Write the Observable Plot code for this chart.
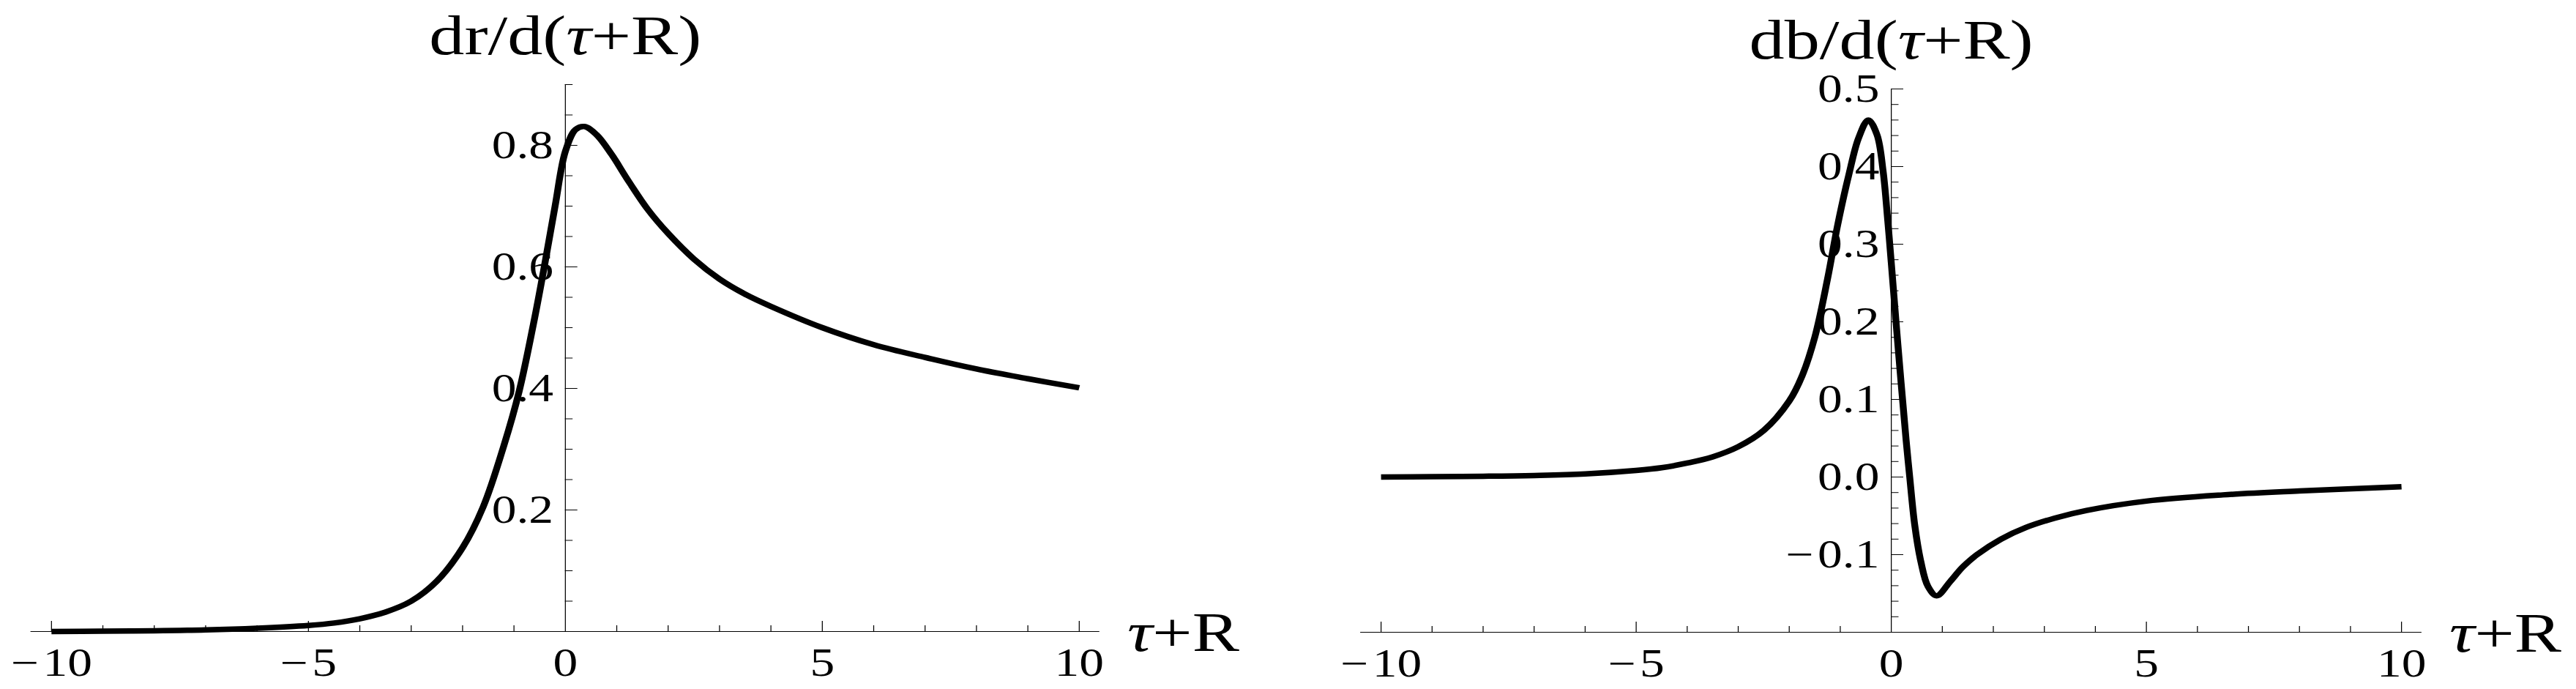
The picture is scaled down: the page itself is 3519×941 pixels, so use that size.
<!DOCTYPE html>
<html>
<head>
<meta charset="utf-8">
<script src="https://cdn.jsdelivr.net/npm/d3@7"></script>
<script src="https://cdn.jsdelivr.net/npm/@observablehq/plot@0.6"></script>
<style>
html, body { margin: 0; padding: 0; background: #fff; }
#wrap { position: absolute; left: 0; top: 0; width: 2816px; height: 941px; transform: scaleX(1.25); transform-origin: 0 0; }
#left, #right { position: absolute; top: 0; width: 1408px; height: 941px; }
#left { left: 0; }
#right { left: 1408px; }
svg text { font-family: "Liberation Serif", "Times New Roman", serif; }
</style>
</head>
<body>
<div id="wrap"><div id="left"></div><div id="right"></div></div>
<script>
// ---- data: dr/d(tau+R) ----
const drX = [-10, -9, -8, -7, -6, -5, -4.5, -4, -3.5, -3, -2.5, -2, -1.6, -1.2, -0.9, -0.6, -0.4, -0.2, 0, 0.2, 0.37, 0.6, 0.9, 1.2, 1.6, 2, 2.5, 3, 3.5, 4, 5, 6, 7, 8, 9, 10];
const drY = [0, 0.0006, 0.0013, 0.0027, 0.0055, 0.010, 0.014, 0.021, 0.032, 0.05, 0.083, 0.138, 0.205, 0.305, 0.395, 0.515, 0.605, 0.70, 0.79, 0.826, 0.831, 0.818, 0.785, 0.745, 0.695, 0.655, 0.613, 0.58, 0.555, 0.535, 0.5, 0.472, 0.451, 0.432, 0.416, 0.401];
// ---- data: db/d(tau+R) ----
const dbX = [-10, -9, -8, -7, -6, -5, -4.5, -4, -3.5, -3, -2.5, -2, -1.75, -1.5, -1.25, -1.05, -0.83, -0.64, -0.45, -0.28, -0.16, -0.07, 0, 0.13, 0.29, 0.36, 0.46, 0.58, 0.72, 0.89, 1.15, 1.4, 1.68, 2.15, 2.64, 3.2, 3.83, 5, 6.5, 8, 10];
const dbY = [0, 0.0005, 0.001, 0.002, 0.004, 0.0085, 0.012, 0.018, 0.026, 0.039, 0.06, 0.098, 0.13, 0.18, 0.255, 0.325, 0.39, 0.437, 0.46, 0.441, 0.394, 0.331, 0.276, 0.17, 0.048, 0.001, -0.062, -0.109, -0.141, -0.153, -0.135, -0.116, -0.1, -0.08, -0.065, -0.053, -0.043, -0.031, -0.023, -0.018, -0.0125];

// ---- axes / ticks ----
const xDomain = [-10, 10];
const xAxisExtent = [-10.4, 10.4];
const xMajorTicks = [-10, -5, 5, 10];
const xMinorTicks = [-9, -8, -7, -6, -4, -3, -2, -1, 1, 2, 3, 4, 6, 7, 8, 9];
const xTickLabels = [-10, -5, 0, 5, 10];

const drDomain = [0, 0.9];
const drMajorTicks = [0.2, 0.4, 0.6, 0.8];
const drMinorTicks = [0.05, 0.1, 0.15, 0.25, 0.3, 0.35, 0.45, 0.5, 0.55, 0.65, 0.7, 0.75, 0.85, 0.9];

const dbDomain = [-0.2, 0.5];
const dbMajorTicks = [-0.1, 0, 0.1, 0.2, 0.3, 0.4, 0.5];
const dbMinorTicks = [-0.18, -0.16, -0.14, -0.12, -0.08, -0.06, -0.04, -0.02, 0.02, 0.04, 0.06, 0.08, 0.12, 0.14, 0.16, 0.18, 0.22, 0.24, 0.26, 0.28, 0.32, 0.34, 0.36, 0.38, 0.42, 0.44, 0.46, 0.48];

const titles = ["dr/d(τ+R)", "db/d(τ+R)"];
const xLabel = "τ+R";

const FONT = "Liberation Serif";
const MINUS = "\u2212\u200A";
function fmtX(v) { return v < 0 ? MINUS + Math.abs(v) : String(v); }
function fmtY(v) { const s = d3.format(".1f")(Math.abs(v)); return v < -1e-9 ? MINUS + s : s; }

function panel(xs, ys, yDomain, yRange, xRange, majY, minY, title) {
  const data = xs.map((x, i) => ({x, y: ys[i]}));
  const y0 = yDomain[0], yTop = yDomain[1];
  return Plot.plot({
    width: 1408, height: 941, margin: 0,
    style: {background: "transparent", overflow: "visible", fontFamily: FONT},
    x: {domain: xDomain, range: xRange, axis: null},
    y: {domain: yDomain, range: yRange, axis: null},
    marks: [
      Plot.ruleY([y0], {x1: xAxisExtent[0], x2: xAxisExtent[1], stroke: "#000", strokeWidth: 1.1}),
      Plot.ruleX([0], {y1: y0, y2: yTop, stroke: "#000", strokeWidth: 1}),
      Plot.ruleX(xMajorTicks, {x: d => d, y1: y0, y2: y0, insetBottom: 14, stroke: "#000", strokeWidth: 1}),
      Plot.ruleX(xMinorTicks, {x: d => d, y1: y0, y2: y0, insetBottom: 8, stroke: "#000", strokeWidth: 1}),
      Plot.ruleY(majY, {y: d => d, x1: 0, x2: 0, insetRight: -13.6, stroke: "#000", strokeWidth: 1}),
      Plot.ruleY(minY, {y: d => d, x1: 0, x2: 0, insetRight: -8.4, stroke: "#000", strokeWidth: 1}),
      Plot.text(xTickLabels, {x: d => d, y: y0, text: d => fmtX(d), dy: 43, lineAnchor: "middle", textAnchor: "middle", fontSize: 54, fill: "#000"}),
      Plot.text(majY, {x: 0, y: d => d, text: d => fmtY(d), dx: -13, lineAnchor: "middle", textAnchor: "end", fontSize: 54, fill: "#000"}),
      Plot.line(data, {x: "x", y: "y", stroke: "#000", strokeWidth: 7.5, curve: "catmull-rom", strokeLinejoin: "round", strokeLinecap: "butt"}),
      Plot.text([title], {x: 0, y: yTop, text: d => d, dy: -42, lineAnchor: "bottom", textAnchor: "middle", fontSize: 77, fill: "#000"}),
      Plot.text([xLabel], {x: xAxisExtent[1], y: y0, text: d => d, dx: 30, dy: 26, lineAnchor: "bottom", textAnchor: "start", fontSize: 77, fill: "#000"})
    ]
  });
}

function italicizeTau(svg) {
  svg.querySelectorAll("text").forEach(t => {
    const s = t.textContent;
    if (!s.includes("τ")) return;
    while (t.firstChild) t.removeChild(t.firstChild);
    s.split(/(τ)/).forEach(part => {
      if (!part) return;
      const ts = document.createElementNS("http://www.w3.org/2000/svg", "tspan");
      if (part === "τ") ts.setAttribute("font-style", "italic");
      ts.textContent = part;
      t.appendChild(ts);
    });
  });
}

const S = 1.25;
const lo = 771.7 / S, lu = 70.2 / S;
const left = panel(drX, drY, drDomain, [862, 115], [lo - 10 * lu, lo + 10 * lu], drMajorTicks, drMinorTicks, titles[0]);
const ro = 2583 / S - 1408, ru = 69.7 / S;
const right = panel(dbX, dbY, dbDomain, [863, 121], [ro - 10 * ru, ro + 10 * ru], dbMajorTicks, dbMinorTicks, titles[1]);
italicizeTau(left); italicizeTau(right);
document.getElementById("left").appendChild(left);
document.getElementById("right").appendChild(right);
</script>
</body>
</html>
